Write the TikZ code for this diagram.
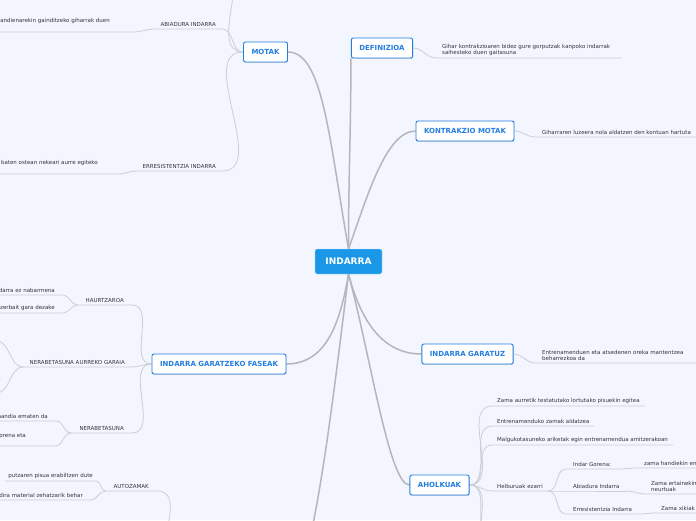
\documentclass[tikz,border=0pt]{standalone}
\usepackage{fontspec}
\setmainfont{DejaVu Sans}
\usetikzlibrary{positioning,shadows,backgrounds}
\definecolor{mmBg}   {RGB}{243,246,254}
\definecolor{mmCore} {RGB}{ 27,151,232}
\definecolor{mmBlue} {RGB}{ 36,126,224}
\definecolor{mmLine} {RGB}{182,182,186}
\definecolor{mmSub}  {RGB}{204,206,214}
\definecolor{mmText} {RGB}{ 52, 52, 58}

\begin{document}
\begin{tikzpicture}[x=1pt,y=1pt,
  every node/.style={font=\fontsize{5.5}{6.6}\selectfont,text=mmText},
  core/.style={rounded corners=2pt,fill=mmCore,draw=white!70!mmCore,text=white,
    font=\fontsize{9}{10}\selectfont\bfseries,minimum width=67pt,minimum height=25pt},
  topic/.style={rounded corners=2pt,fill=white,draw=mmBlue,line width=0.9pt,
    text=mmBlue,font=\fontsize{7}{8}\selectfont\bfseries,minimum height=20pt,
    inner xsep=8pt,drop shadow={shadow xshift=0.4pt,shadow yshift=-0.9pt,opacity=0.3}},
  lbl/.style={inner xsep=6pt,inner ysep=1.8pt,align=left},
  lblR/.style={lbl,anchor=south west},
  lblL/.style={lbl,anchor=south east},
  mainln/.style={draw=mmLine,line width=1.5pt},
  subln/.style={draw=mmSub,line width=0.8pt}
]
\useasboundingbox (0,0) rectangle (696,-520);

\node[core] (c) at (348.5,-261.5) {INDARRA};

\node[topic] (motak) at (265.5,-52)  {MOTAK};
\node[topic] (def)   at (382,-48)    {DEFINIZIOA};
\node[topic] (kmot)  at (465,-131)   {KONTRAKZIO MOTAK};
\node[topic] (igar)  at (467.5,-354) {INDARRA GARATUZ};
\node[topic] (fase)  at (219,-364)   {INDARRA GARATZEKO FASEAK};
\node[topic] (ahol)  at (439.5,-485) {AHOLKUAK};
\coordinate (meto)  at (292,-580);
\coordinate (metoW) at (172,-590);

% MOTAK
\node[lblL] (abia) at (222,-29) {ABIADURA INDARRA};
\node[lblL,inner xsep=23pt,text depth=8pt] (abiaT) at (133,-32) {andienarekin gainditzeko giharrak duen};
\node[lblL] (erre) at (222,-171) {ERRESISTENTZIA INDARRA};
\node[lblL,inner xsep=20pt,text depth=8pt] (erreT) at (118,-174) {baten ostean nekeari aurre egiteko};
\coordinate (motakUp) at (220,40);

% DEFINIZIOA / KONTRAKZIO MOTAK / INDARRA GARATUZ
\node[lblR,text width=173pt] (defT) at (436,-58) {Gihar kontrakzioaren bidez gure gorputzak kanpoko indarrak\\saihesteko duen gaitasuna};
\node[lblR,inner xsep=7pt] (kmotT) at (535,-137) {Giharraren luzeera nola aldatzen den kontuan hartuta};
\node[lblR,inner xsep=7pt,text width=150pt] (igarT) at (535,-363) {Entrenamenduen eta atsedenen oreka mantentzea\\beharrezkoa da};

% FASEAK
\node[lblL,inner xsep=8pt] (haur)  at (132,-305) {HAURTZAROA};
\node[lblL,inner xsep=8pt] (haurA) at (63,-295) {darra ez nabarmena};
\node[lblL,inner xsep=8pt] (haurB) at (63,-313) {zerbait gara dezake};
\node[lblL] (naur) at (131,-367) {NERABETASUNA AURREKO GARAIA};
\coordinate (naurA) at (-4,-341);
\coordinate (naurB) at (-4,-393);
\node[lblL,inner xsep=8pt] (nera)  at (132,-433) {NERABETASUNA};
\node[lblL,inner xsep=8pt] (neraA) at (56,-421) {nandia ematen da};
\node[lblL,inner xsep=29pt,text depth=7pt] (neraB) at (55,-446) {orena eta};

% AUTOZAMAK
\node[lblL,inner xsep=8pt] (auto)  at (157,-491) {AUTOZAMAK};
\node[lblL,inner xsep=3pt] (autoA) at (96,-481) {putzaren pisua erabiltzen dute};
\node[lblL,inner xsep=8pt] (autoB) at (91,-500) {dira material zehatzarik behar};

% AHOLKUAK
\node[lblR,inner xsep=5pt] (ah1) at (492,-406) {Zama aurretik testatutako lortutako pisuekin egitea};
\node[lblR,inner xsep=5pt] (ah2) at (492,-426) {Entrenamenduko zamak aldatzea};
\node[lblR,inner xsep=5pt] (ah3) at (492,-445) {Malgukotasuneko ariketak egin entrenamendua amitzerakoan};
\node[lblR,inner xsep=5pt] (ah4) at (492,-491) {Helburuak ezarri};
\coordinate (ah5) at (492,-540);
\coordinate (ah6) at (492,-562);
\node[lblR,inner xsep=7pt] (goal1) at (566,-469) {Indar Gorena:};
\node[lblR,inner xsep=7pt] (goal2) at (566,-491) {Abiadura Indarra};
\node[lblR,inner xsep=7pt] (goal3) at (566,-514) {Erresistentzia Indarra};
\node[lblR] (load1) at (638,-468) {zama handiekin en};
\node[lblR] (load2) at (645,-494) {Zama ertainekin\\neurtuak};
\node[lblR] (load3) at (655,-513) {Zama xikiak};

\begin{scope}[on background layer]
\fill[mmBg] (0,0) rectangle (696,-520);
% main branches
\draw[mainln] (c.north) to[out=100,in=0,out distance=112pt,in distance=35pt] (motak.east);
\draw[mainln] (c.north) to[out=90,in=-90] (def.south west);
\draw[mainln] (c.north) to[out=70,in=180,in distance=30pt] (kmot.west);
\draw[mainln] (c.south) to[out=-75,in=180] (igar.west);
\draw[mainln] (c.south) to[out=-100,in=0] (fase.east);
\draw[mainln] (c.south) to[out=-75,in=180,in distance=20pt] (ahol.west);
\draw[mainln] (c.south) to[out=-97,in=0,in distance=20pt] (meto);
% MOTAK
\draw[subln] (motak.west) to[out=180,in=0] (motakUp);
\draw[subln] (motak.west) to[out=180,in=0] (abia.south east) -- (abia.south west);
\draw[subln] (abia.south west) to[out=180,in=0] (abiaT.south east) -- (abiaT.south west);
\draw[subln] (motak.west) to[out=180,in=0] (erre.south east) -- (erre.south west);
\draw[subln] (erre.south west) to[out=180,in=0] (erreT.south east) -- (erreT.south west);
% right side texts
\draw[subln] (def.east) to[out=0,in=180] (defT.south west) -- (defT.south east);
\draw[subln] (kmot.east) to[out=0,in=180] (kmotT.south west) -- (kmotT.south east);
\draw[subln] (igar.east) to[out=0,in=180] (igarT.south west) -- (igarT.south east);
% FASEAK
\draw[subln] (fase.west) to[out=180,in=0] (haur.south east) -- (haur.south west);
\draw[subln] (haur.south west) to[out=180,in=0] (haurA.south east) -- (haurA.south west);
\draw[subln] (haur.south west) to[out=180,in=0] (haurB.south east) -- (haurB.south west);
\draw[subln] (fase.west) to[out=180,in=0] (naur.south east) -- (naur.south west);
\draw[subln] (naur.south west) to[out=180,in=0] (naurA);
\draw[subln] (naur.south west) to[out=180,in=0] (naurB);
\draw[subln] (fase.west) to[out=180,in=0] (nera.south east) -- (nera.south west);
\draw[subln] (nera.south west) to[out=180,in=0] (neraA.south east) -- (neraA.south west);
\draw[subln] (nera.south west) to[out=180,in=0] (neraB.south east) -- (neraB.south west);
% AUTOZAMAK
\draw[subln] (metoW) to[out=180,in=0] (auto.south east) -- (auto.south west);
\draw[subln] (auto.south west) to[out=180,in=0] (autoA.south east) -- (autoA.south west);
\draw[subln] (auto.south west) to[out=180,in=0] (autoB.south east) -- (autoB.south west);
% AHOLKUAK
\draw[subln] (ahol.east) to[out=0,in=180] (ah1.south west) -- (ah1.south east);
\draw[subln] (ahol.east) to[out=0,in=180] (ah2.south west) -- (ah2.south east);
\draw[subln] (ahol.east) to[out=0,in=180] (ah3.south west) -- (ah3.south east);
\draw[subln] (ahol.east) to[out=0,in=180] (ah4.south west) -- (ah4.south east);
\draw[subln] (ahol.east) to[out=0,in=180] (ah5);
\draw[subln] (ahol.east) to[out=0,in=180] (ah6);
\draw[subln] (ah4.south east) to[out=0,in=180] (goal1.south west) -- (goal1.south east);
\draw[subln] (ah4.south east) to[out=0,in=180] (goal2.south west) -- (goal2.south east);
\draw[subln] (ah4.south east) to[out=0,in=180] (goal3.south west) -- (goal3.south east);
\draw[subln] (goal1.south east) to[out=0,in=180] (load1.south west) -- (load1.south east);
\draw[subln] (goal2.south east) to[out=0,in=180] (load2.south west) -- (load2.south east);
\draw[subln] (goal3.south east) to[out=0,in=180] (load3.south west) -- (load3.south east);
\end{scope}
\end{tikzpicture}
\end{document}
